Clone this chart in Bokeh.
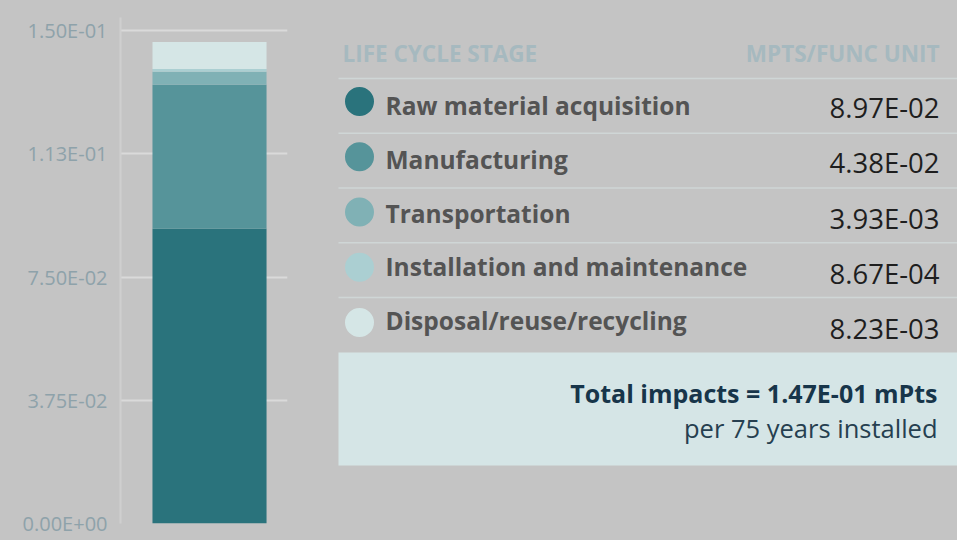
from bokeh.plotting import figure
from bokeh.layouts import row
from bokeh.models import Range1d, FixedTicker, ColumnDataSource
from bokeh.core.properties import value
from bokeh.embed import file_html
from bokeh.resources import INLINE

# ---------------- data ----------------
stages = ["Raw material acquisition", "Manufacturing", "Transportation",
          "Installation and maintenance", "Disposal/reuse/recycling"]
impacts = [8.97e-02, 4.38e-02, 3.93e-03, 8.67e-04, 8.23e-03]
stage_colors = ["#2a737c", "#56949a", "#80b1b5", "#abcfd2", "#d5e6e6"]
y_ticks = [0.0, 0.0375, 0.075, 0.1125, 0.15]
y_tick_labels = ["0.00E+00", "3.75E-02", "7.50E-02", "1.13E-01", "1.50E-01"]
header_stage = "LIFE CYCLE STAGE"
header_unit = "MPTS/FUNC UNIT"
total_unit = "mPts"
period_text = "per 75 years installed"

BG = "#c4c4c4"
FONT = "Open Sans"

# ---------------- left: stacked bar ----------------
W_L, H = 330, 540
TOP, BOT = 17, 17
left = figure(width=W_L, height=H, output_backend="svg", toolbar_location=None,
              x_range=Range1d(0, 1), y_range=Range1d(0, 0.15396),
              min_border_left=120, min_border_right=43,
              min_border_top=TOP, min_border_bottom=BOT)
left.background_fill_color = BG
left.border_fill_color = BG
left.outline_line_color = None

keys = [f"s{i}" for i in range(len(stages))]
src = ColumnDataSource({"x": [0.533], **{k: [v] for k, v in zip(keys, impacts)}})
left.vbar_stack(keys, x="x", width=0.683, source=src, color=stage_colors,
                line_color=None)

left.xaxis.visible = False
left.xgrid.visible = False
yax = left.yaxis[0]
yax.ticker = FixedTicker(ticks=y_ticks)
yax.major_label_overrides = {t: l for t, l in zip(y_ticks, y_tick_labels)}
yax.major_tick_line_color = None
yax.minor_tick_line_color = None
yax.major_tick_in = 0
yax.major_tick_out = 0
yax.axis_line_color = "#cfcfcf"
yax.axis_line_width = 2
yax.major_label_standoff = 13
yax.major_label_text_font = FONT
yax.major_label_text_font_size = "20px"
yax.major_label_text_color = "#8ea2aa"
left.ygrid.ticker = FixedTicker(ticks=y_ticks)
left.ygrid.grid_line_color = "#dadada"
left.ygrid.grid_line_width = 2

# ---------------- right: table ----------------
W_R = 957 - W_L
right = figure(width=W_R, height=H, output_backend="svg", toolbar_location=None,
               x_range=Range1d(0, W_R), y_range=Range1d(H - BOT, TOP),
               min_border=0, min_border_left=0, min_border_right=0,
               min_border_top=TOP, min_border_bottom=BOT)
right.background_fill_color = BG
right.border_fill_color = BG
right.outline_line_color = None
right.axis.visible = False
right.grid.visible = False

n = len(stages)
sep_y = [78 + 54.75 * i for i in range(n)]
circ_y = [101 + 55.25 * i for i in range(n)]
lab_y = [105 + 53.75 * i for i in range(n)]
val_y = [107 + 55.25 * i for i in range(n)]
val_labels = [f"{v:.2E}" for v in impacts]
total = sum(impacts)

# header
right.text(x=[12], y=[53], text=[header_stage], text_font=value(FONT),
           text_font_size="22.5px", text_font_style="bold", text_color="#a6b9bf",
           text_baseline="middle", text_align="left")
right.text(x=[609], y=[53], text=[header_unit], text_font=value(FONT),
           text_font_size="22.5px", text_font_style="bold", text_color="#a6b9bf",
           text_baseline="middle", text_align="right")

# separators
right.segment(x0=[8] * n, x1=[W_R] * n, y0=sep_y, y1=sep_y,
              line_color="#cfd6d6", line_width=1.5)

# rows
right.scatter(x=[29] * n, y=circ_y, size=29, color=stage_colors, line_color=None)
right.text(x=[55] * n, y=lab_y, text=stages, text_font=value(FONT),
           text_font_size="24.5px", text_font_style="bold", text_color="#545454",
           text_baseline="middle", text_align="left")
right.text(x=[609] * n, y=val_y, text=val_labels, text_font=value(FONT),
           text_font_size="27.5px", text_color="#1e1e1e",
           text_baseline="middle", text_align="right")

# total box
right.quad(left=[8], right=[W_R], top=[352], bottom=[465],
           fill_color="#d5e5e6", line_color=None)
right.text(x=[607], y=[392], text=[f"Total impacts = {total:.2E} {total_unit}"],
           text_font=value(FONT), text_font_size="25px", text_font_style="bold",
           text_color="#17354a", text_baseline="middle", text_align="right")
right.text(x=[607], y=[427], text=[period_text],
           text_font=value(FONT), text_font_size="25.5px",
           text_color="#263f50", text_baseline="middle", text_align="right")

p = row(left, right)
html = file_html(p, INLINE)
html = html.replace("<head>", "<head><style>html,body{background:#c4c4c4;}</style>", 1)
open("out.html", "w").write(html)
